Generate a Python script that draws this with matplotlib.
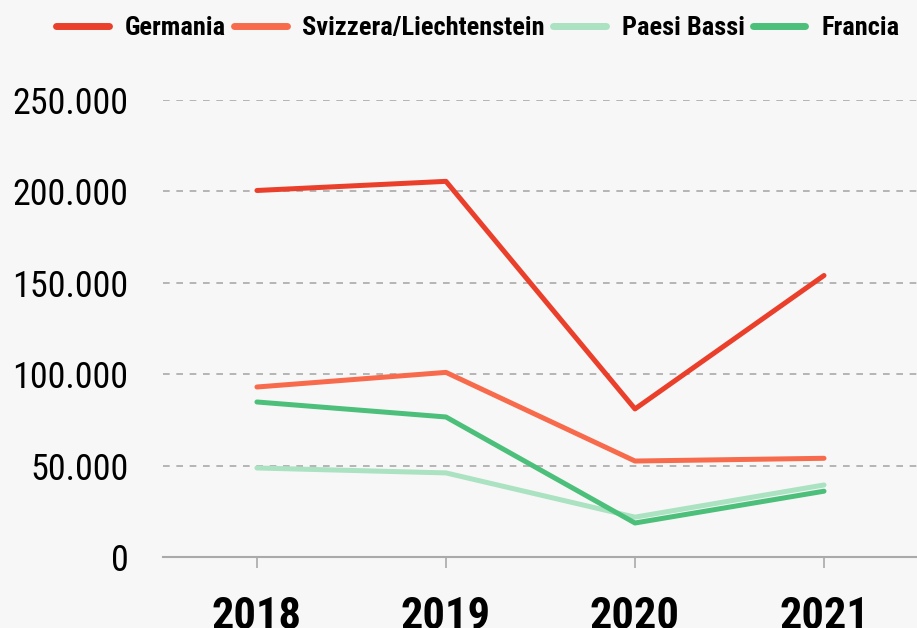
import matplotlib.pyplot as plt
from matplotlib.ticker import FuncFormatter

anni = ['2018', '2019', '2020', '2021']
germania = [200500, 205500, 81000, 154000]
svizzera = [93000, 101000, 52500, 54000]
paesi_bassi = [48700, 46000, 21800, 39400]
francia = [84800, 76600, 18600, 36000]

serie = [
    ('Germania', germania, '#ea3f2a'),
    ('Svizzera/Liechtenstein', svizzera, '#f76b4c'),
    ('Paesi Bassi', paesi_bassi, '#aae2c2'),
    ('Francia', francia, '#4cc07a'),
]

plt.rcParams['font.family'] = ['Roboto Condensed', 'DejaVu Sans']
bg = '#f7f7f7'

fig = plt.figure(figsize=(9.17, 6.28), dpi=100, facecolor=bg)
ax = fig.add_axes([163 / 917, 1 - 557 / 628, (917 - 163) / 917, (557 - 100) / 628])
ax.set_facecolor(bg)

x = range(len(anni))
for nome, valori, colore in serie:
    ax.plot(x, valori, color=colore, lw=3.6, label=nome, solid_capstyle='round')

ax.set_xlim(-0.497, 3.492)
ax.set_ylim(0, 250000)
ax.set_yticks([0, 50000, 100000, 150000, 200000, 250000])
ax.yaxis.set_major_formatter(FuncFormatter(lambda v, p: f'{int(v):,}'.replace(',', '.')))
ax.set_xticks(list(x))
ax.set_xticklabels(anni, fontsize=32, fontweight='bold')
ax.tick_params(axis='y', length=0, labelsize=26, pad=25)
ax.tick_params(axis='x', length=8, width=1.2, color='#aaaaaa', pad=20)

for s in ['top', 'right', 'left']:
    ax.spines[s].set_visible(False)
ax.spines['bottom'].set_color('#aaaaaa')
ax.spines['bottom'].set_linewidth(1.5)

ax.yaxis.grid(True, color='#aaaaaa', lw=1.2, dashes=(4, 4))
ax.set_axisbelow(True)
for line in ax.get_ygridlines()[:1]:
    line.set_visible(False)

leg = fig.legend(loc='upper center', bbox_to_anchor=(0.521, 1.012), ncol=4, frameon=False,
                 prop={'weight': 'bold', 'size': 19}, handlelength=2.0,
                 handletextpad=0.6, columnspacing=0.3)
for h in leg.get_lines():
    h.set_linewidth(5)
    h.set_solid_capstyle('round')

fig.savefig('out.png', dpi=100, facecolor=bg)
